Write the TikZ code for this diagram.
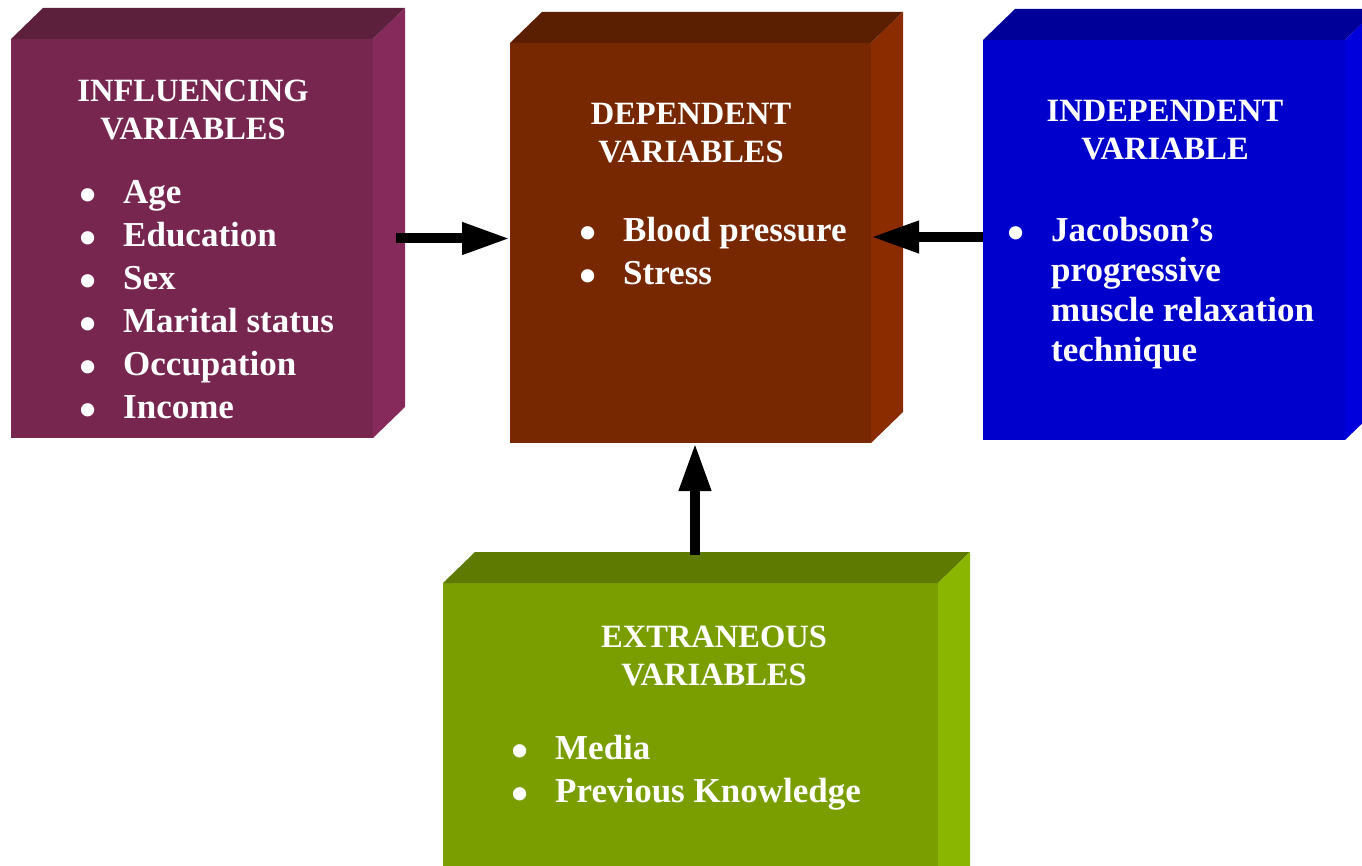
\documentclass[tikz,border=0pt]{standalone}
\usepackage{fontspec}
\setmainfont{Liberation Serif}
\usetikzlibrary{arrows.meta}

\definecolor{inflFront}{HTML}{772650}
\definecolor{inflTop}{HTML}{5C1F3C}
\definecolor{inflSide}{HTML}{86295B}
\definecolor{depFront}{HTML}{772800}
\definecolor{depTop}{HTML}{5A1E00}
\definecolor{depSide}{HTML}{8B2C00}
\definecolor{indepFront}{HTML}{0000CC}
\definecolor{indepTop}{HTML}{000099}
\definecolor{indepSide}{HTML}{0000DD}
\definecolor{extrFront}{HTML}{7A9E00}
\definecolor{extrTop}{HTML}{5E7A00}
\definecolor{extrSide}{HTML}{8AB500}

\newcommand{\bul}[1]{\makebox[44pt][l]{\smash{\raisebox{-8pt}{\scalebox{1.4}{\textbullet}}}}#1}

\begin{document}
\begin{tikzpicture}[
    x=1pt, y=-1pt,
    face/.style={inner sep=0pt, outer sep=0pt},
    title/.style={text=white, font=\bfseries\fontsize{32.5}{38}\selectfont, inner sep=0pt, anchor=base},
    item/.style={text=white, font=\bfseries\fontsize{35}{43}\selectfont, inner sep=0pt, anchor=base west},
    flow/.style={line width=10pt, -{Triangle[length=48pt, width=30pt]}}
]
\clip (0,0) rectangle (1362,866);

% front faces
\node[face, fill=inflFront, minimum width=362pt, minimum height=399pt] (infl) at (192,238.5) {};
\node[face, fill=depFront, minimum width=361pt, minimum height=400pt] (dep) at (690.5,243) {};
\node[face, fill=indepFront, minimum width=362pt, minimum height=400pt] (indep) at (1164,240) {};
\node[face, fill=extrFront, minimum width=495pt, minimum height=320pt] (extr) at (690.5,743) {};

% top and side faces
\foreach \b in {infl, dep, indep, extr} {
    \fill[\b Top] (\b.north west) -- ++(32,-31) -- ([shift={(32,-31)}]\b.north east) -- (\b.north east) -- cycle;
    \fill[\b Side] (\b.north east) -- ++(32,-31) -- ([shift={(32,-31)}]\b.south east) -- (\b.south east) -- cycle;
}

% titles
\node[title] (inflTitle) at (193,102) {\begin{tabular}[t]{@{}c@{}}INFLUENCING\\VARIABLES\end{tabular}};
\node[title] (depTitle) at (691,125) {\begin{tabular}[t]{@{}c@{}}DEPENDENT\\VARIABLES\end{tabular}};
\node[title] (indepTitle) at (1165,122) {\begin{tabular}[t]{@{}c@{}}INDEPENDENT\\VARIABLE\end{tabular}};
\node[title] (extrTitle) at (714,647) {\begin{tabular}[t]{@{}c@{}}EXTRANEOUS\\VARIABLES\end{tabular}};

% lists
\node[item] (inflList) at (79,204) {\begin{tabular}[t]{@{}l@{}}
    \bul{Age}\\ \bul{Education}\\ \bul{Sex}\\ \bul{Marital status}\\ \bul{Occupation}\\ \bul{Income}
\end{tabular}};
\node[item] (depList) at (579,242) {\begin{tabular}[t]{@{}l@{}}
    \bul{Blood pressure}\\ \bul{Stress}
\end{tabular}};
\node[item, font=\bfseries\fontsize{35}{40}\selectfont] (indepList) at (1007,242) {\bul{\begin{tabular}[t]{@{}l@{}}
    Jacobson’s\\ progressive\\ muscle relaxation\\ technique
\end{tabular}}};
\node[item] (extrList) at (511,759) {\begin{tabular}[t]{@{}l@{}}
    \bul{Media}\\ \bul{Previous Knowledge}
\end{tabular}};

% arrows
\draw[flow] ([xshift=23pt]infl.east) -- (infl.east -| dep.west);
\draw[flow] ([yshift=3pt]indep.west) -- ([yshift=3pt]indep.west -| dep.east);
\draw[flow] ([xshift=4.5pt, yshift=28pt]extr.north) -- ([xshift=4.5pt]dep.south);
\end{tikzpicture}
\end{document}
